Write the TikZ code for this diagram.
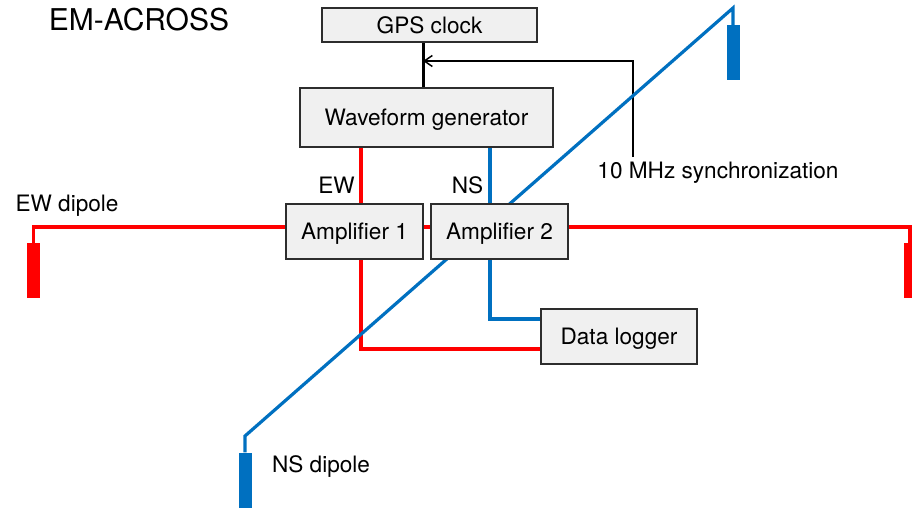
\documentclass[tikz,border=0pt]{standalone}
\usepackage{fontspec}
\setmainfont{TeX Gyre Heros}
\usetikzlibrary{arrows.meta,calc}
\pgfdeclarelayer{wires}
\pgfsetlayers{wires,main}
\definecolor{ewred}{RGB}{255,0,0}
\definecolor{nsblue}{RGB}{0,112,192}
\definecolor{boxfill}{RGB}{240,240,240}
\definecolor{boxline}{RGB}{45,45,45}
\tikzset{
  % text is centred on the capital height of the 22.6pt font
  unit/.style={draw=boxline, fill=boxfill, line width=1.1pt, inner sep=0pt,
    text height=16.3pt, text depth=0pt,
    font=\fontsize{22.6}{26}\selectfont},
  label/.style={inner sep=1pt, text height=16.3pt, text depth=0pt,
    font=\fontsize{22.6}{26}\selectfont},
  ewline/.style={draw=ewred, line width=3.2pt},
  nsline/.style={draw=nsblue, line width=3.2pt},
  electrode/.style={inner sep=0pt, minimum width=13pt, minimum height=55pt},
}
\begin{document}
\begin{tikzpicture}[x=1pt, y=-1pt]
\useasboundingbox (0,0) rectangle (912,508);
\clip (0,0) rectangle (912,508);

% title
\node[label, text height=21.6pt, font=\fontsize{30}{34}\selectfont] (title) at (139,19.5) {EM-ACROSS};

% boxes
\node[unit, minimum width=215pt, minimum height=34pt] (gps) at (429.5,25) {GPS clock};
\node[unit, minimum width=253pt, minimum height=59pt] (wf) at (426.5,117.5) {Waveform generator};
\node[unit, minimum width=137pt, minimum height=55pt] (amp1) at (354.5,231.5) {Amplifier 1};
\node[unit, minimum width=137pt, minimum height=55pt] (amp2) at (499.5,231.5) {Amplifier 2};
\node[unit, minimum width=156pt, minimum height=55pt] (logger) at (619,336.5) {Data logger};

% labels
\node[label] (sync) at (718,170.5) {10 MHz synchronization};
\node[label] (ewlab) at (336.5,185) {EW};
\node[label] (nslab) at (467.5,185) {NS};
\node[label] (ewdip) at (67,203.5) {EW dipole};
\node[label] (nsdip) at (321,464.5) {NS dipole};

% electrodes
\node[electrode, fill=ewred] (ewW) at (33.5,270.5) {};
\node[electrode, fill=ewred] (ewE) at (910,270.5) {};
\node[electrode, fill=nsblue] (nsN) at (733,52.5) {};
\node[electrode, fill=nsblue] (nsS) at (245,480) {};

% guide coordinates
\coordinate (nsTop) at (733,8);
\coordinate (nsBot) at (245,436);
\coordinate (ewx) at (361,0);
\coordinate (nsx) at (490,0);
\coordinate (clkx) at (423,0);
\coordinate (clk) at (423,61);
\coordinate (synx) at (633,0);
\coordinate (synbot) at (0,157);
\coordinate (ewy) at (0,349);
\coordinate (nsy) at (0,319);
\coordinate (wirey) at (0,227);

\begin{pgfonlayer}{wires}
  % EW dipole wire through both amplifiers
  \draw[ewline] (ewW.north) -- (ewW.north |- wirey) -- (ewE.north |- wirey) -- (ewE.north);
  % channel lines
  \draw[ewline] (wf.south -| ewx) -- (amp1.north -| ewx);
  \draw[ewline] (amp1.south -| ewx) |- (logger.west |- ewy);
  \draw[nsline] (wf.south -| nsx) -- (amp2.north -| nsx);
  \draw[nsline] (amp2.south -| nsx) |- (logger.west |- nsy);
  % sync line to the clock
  \draw[line width=1.5pt, -{Straight Barb[length=8pt,width=11pt,line width=1.5pt]}]
    (synx |- synbot) |- (clk);
  \draw[line width=3pt] (gps.south -| clkx) -- (wf.north -| clkx);
  % NS dipole wire
  \draw[nsline] (nsN.north) -- (nsTop) -- (nsBot) -- (nsS.north);
\end{pgfonlayer}
\end{tikzpicture}
\end{document}
